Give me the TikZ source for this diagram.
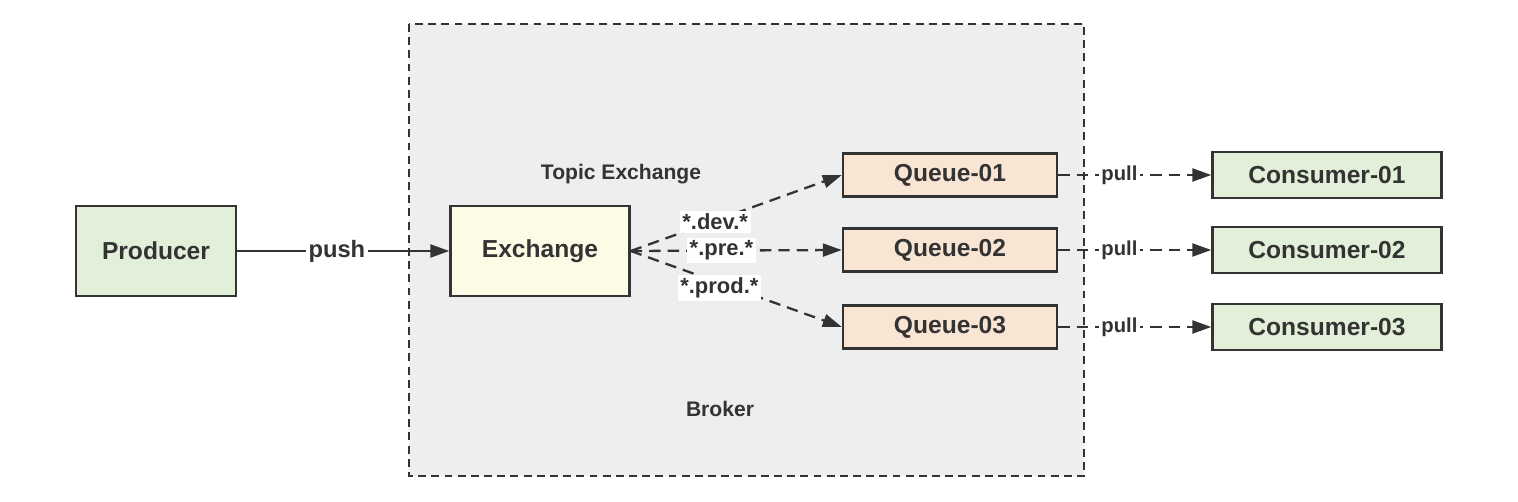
\documentclass[tikz,border=0pt]{standalone}
\usepackage{fontspec}
\setmainfont{Liberation Sans}
\usetikzlibrary{arrows.meta}
\definecolor{ink}{HTML}{333333}
\definecolor{greenbox}{HTML}{E3F0D9}
\definecolor{yellowbox}{HTML}{FDFBE6}
\definecolor{orangebox}{HTML}{F9E5D4}
\definecolor{brokerbg}{HTML}{EEEEEE}
\begin{document}
\begin{tikzpicture}[x=0.02cm,y=-0.02cm,
  box/.style={draw=ink,line width=1.4pt,text=ink,font=\fontsize{14}{16}\selectfont\bfseries,inner sep=0pt},
  lbl/.style={fill=white,text=ink,inner sep=1.5pt,font=\fontsize{12.5}{14}\selectfont\bfseries},
  flow/.style={ink,line width=1.3pt,-{Triangle[length=0.38cm,width=0.26cm]}},
  route/.style={flow,dash pattern=on 6.5pt off 4pt}]
  \useasboundingbox (0,0) rectangle (1518,502);
  \draw[fill=brokerbg,draw=ink,line width=1.3pt,dash pattern=on 4.5pt off 3pt] (409,24) rectangle (1084,476);
  \node[text=ink,font=\fontsize{12}{14}\selectfont\bfseries] (broker) at (720,409) {Broker};
  \node[text=ink,font=\fontsize{12}{14}\selectfont\bfseries] (topic) at (621,174) {Topic Exchange};
  \node[box,fill=greenbox,minimum width=3.2cm,minimum height=1.8cm] (producer) at (156,251) {Producer};
  \node[box,fill=yellowbox,minimum width=3.58cm,minimum height=1.8cm] (exchange) at (540,251) {Exchange};
  \node[box,fill=orangebox,minimum width=4.28cm,minimum height=0.86cm] (q1) at (950,175) {Queue-01};
  \node[box,fill=orangebox,minimum width=4.28cm,minimum height=0.86cm] (q2) at (950,250) {Queue-02};
  \node[box,fill=orangebox,minimum width=4.28cm,minimum height=0.86cm] (q3) at (950,327) {Queue-03};
  \node[box,fill=greenbox,minimum width=4.58cm,minimum height=0.92cm] (c1) at (1327,175) {Consumer-01};
  \node[box,fill=greenbox,minimum width=4.58cm,minimum height=0.92cm] (c2) at (1327,250) {Consumer-02};
  \node[box,fill=greenbox,minimum width=4.58cm,minimum height=0.92cm] (c3) at (1327,327) {Consumer-03};
  \draw[flow] (producer) -- node[lbl,pos=0.47,font=\fontsize{13.5}{15}\selectfont\bfseries]{push} (exchange);
  \draw[route] (exchange.east) -- node[lbl,pos=0.4,yshift=-0.03cm]{*.dev.*} (q1.west);
  \draw[route] (exchange.east) -- node[lbl,pos=0.43]{*.pre.*} (q2.west);
  \draw[route] (exchange.east) -- node[lbl,pos=0.42,yshift=-0.1cm]{*.prod.*} (q3.west);
  \draw[route] (q1) -- node[lbl,pos=0.4,font=\fontsize{11.5}{13}\selectfont\bfseries]{pull} (c1);
  \draw[route] (q2) -- node[lbl,pos=0.4,font=\fontsize{11.5}{13}\selectfont\bfseries]{pull} (c2);
  \draw[route] (q3) -- node[lbl,pos=0.4,font=\fontsize{11.5}{13}\selectfont\bfseries]{pull} (c3);
\end{tikzpicture}
\end{document}
